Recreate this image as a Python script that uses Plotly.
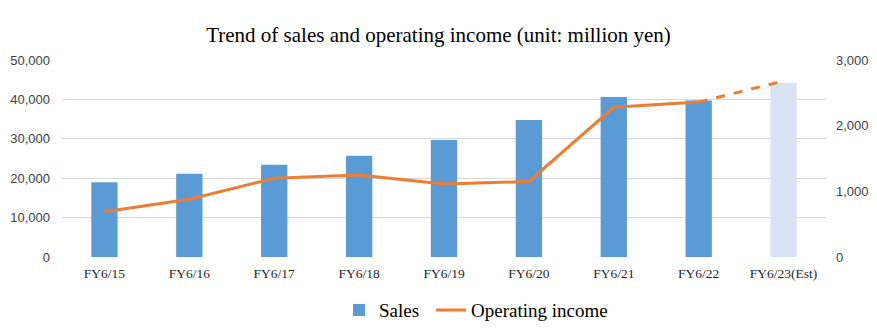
import plotly.graph_objects as go

categories = ["FY6/15", "FY6/16", "FY6/17", "FY6/18", "FY6/19", "FY6/20", "FY6/21", "FY6/22", "FY6/23(Est)"]
sales = [19000, 21100, 23400, 25700, 29700, 34800, 40600, 39700, 44200]
operating_income = [690, 880, 1200, 1250, 1110, 1150, 2280, 2360, 2680]
left_ticks = [0, 10000, 20000, 30000, 40000, 50000]
right_ticks = [0, 1000, 2000, 3000]

bar_colors = ["#5B9BD5"] * (len(categories) - 1) + ["#DAE3F3"]

fig = go.Figure()
fig.add_trace(go.Bar(
    x=categories, y=sales, name="Sales",
    marker=dict(color=bar_colors, line=dict(width=0)),
    yaxis="y", legend="legend",
))
fig.add_trace(go.Scatter(
    x=categories[:-1], y=operating_income[:-1], name="Operating income",
    mode="lines", line=dict(color="#ED7D31", width=3),
    yaxis="y2", legend="legend2",
))
fig.add_trace(go.Scatter(
    x=categories[-2:], y=operating_income[-2:], name="Operating income (Est)",
    mode="lines", line=dict(color="#ED7D31", width=3, dash="dash"),
    yaxis="y2", showlegend=False,
))

legend_font = dict(family="Liberation Serif", size=19, color="#000000")

fig.update_layout(
    width=877, height=328,
    margin=dict(l=62, r=51, t=60, b=71, autoexpand=False),
    paper_bgcolor="white", plot_bgcolor="white",
    title=dict(text="Trend of sales and operating income (unit: million yen)",
               x=0.5, xanchor="center", y=0.895, yanchor="middle",
               font=dict(family="Liberation Serif", size=21, color="#000000")),
    bargap=0.69,
    xaxis=dict(
        type="category", showgrid=False, showline=False, ticks="",
        ticklabelstandoff=6,
        tickfont=dict(family="Liberation Serif", size=13.5, color="#262626"),
    ),
    yaxis=dict(
        range=[0, 50000], tickvals=left_ticks, tickformat=",",
        showgrid=True, gridcolor="#D9D9D9", gridwidth=1, zeroline=False,
        showline=False, ticks="", ticklabelstandoff=11,
        tickfont=dict(family="Liberation Sans", size=13, color="#404040"),
    ),
    yaxis2=dict(
        range=[0, 3000], tickvals=right_ticks, tickformat=",",
        overlaying="y", side="right", showgrid=False, zeroline=False,
        showline=False, ticks="", ticklabelstandoff=9,
        tickfont=dict(family="Liberation Sans", size=13, color="#404040"),
    ),
    legend=dict(
        orientation="h", x=0.3626, xanchor="left", y=-0.27, yanchor="middle",
        font=legend_font, itemwidth=30,
    ),
    legend2=dict(
        orientation="h", x=0.483, xanchor="left", y=-0.27, yanchor="middle",
        font=legend_font, itemwidth=30,
    ),
    showlegend=True,
)

fig.write_html("out.html")
